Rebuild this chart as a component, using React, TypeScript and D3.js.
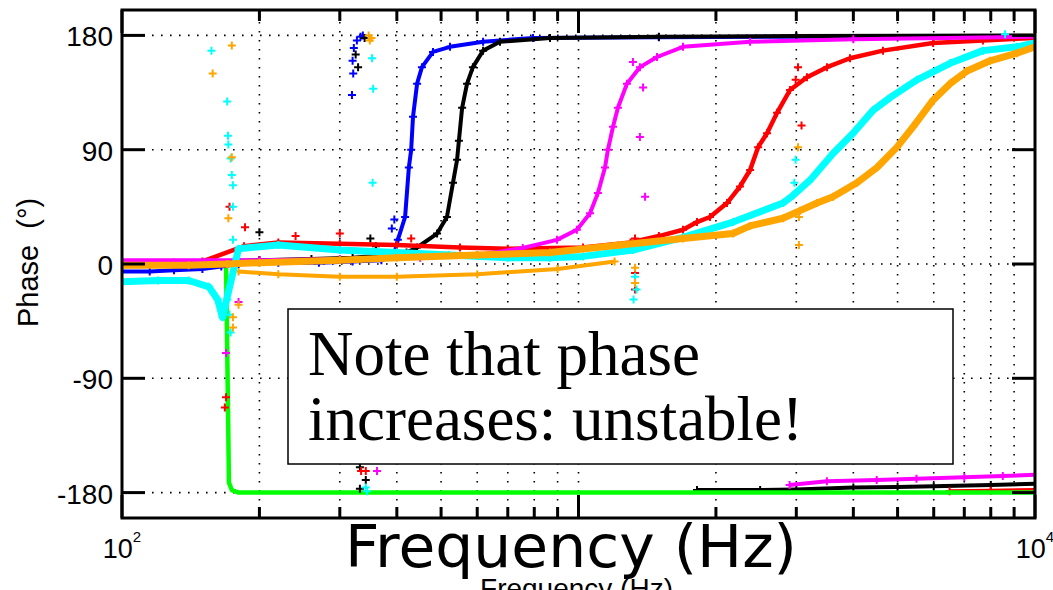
import React, { useRef, useEffect } from 'react';
import * as d3 from 'd3';

type Pt = [number, number];

// frequency (Hz), phase (deg)
const blue: Pt[] = [[100, -6], [115, -6], [130, -5], [150, -4], [165, -2], [180, 0], [220, 1], [270, 1], [320, 2], [370, 3], [395, 8], [402, 19], [417, 37], [425, 76], [430, 90], [434, 116], [443, 142], [454, 155], [480, 167], [523, 171], [618, 175], [795, 178], [1500, 178.5], [3000, 179], [10000, 179.5]];
const black: Pt[] = [[100, 0], [130, 1], [160, 2], [200, 3], [260, 4], [320, 5], [380, 7], [420, 9], [443, 13], [490, 24], [515, 37], [531, 64], [542, 82], [547, 97], [556, 123], [570, 142], [587, 155], [618, 168], [673, 175], [866, 178], [1500, 179], [3000, 179.5], [10000, 180]];
const magenta: Pt[] = [[100, 3], [200, 3], [300, 4], [450, 5], [600, 7], [755, 12.6], [897, 19], [992, 27], [1060, 40], [1103, 56], [1143, 76], [1160, 90], [1190, 108], [1220, 123], [1277, 142], [1363, 155], [1486, 163], [1694, 171], [2376, 175], [4000, 177], [10000, 179]];
const red: Pt[] = [[100, 0], [150, 2], [185, 14], [220, 17], [300, 16], [400, 15], [550, 13], [700, 12], [1023, 13], [1300, 17], [1500, 22], [1694, 27], [1818, 33], [1941, 37], [2115, 48], [2258, 61], [2376, 74], [2474, 92], [2588, 103], [2722, 119], [2906, 137], [3166, 147], [3503, 155], [3933, 162], [4645, 168], [5980, 174], [7690, 176], [10000, 178]];
const cyan: Pt[] = [[100, -14], [120, -13], [140, -13], [155, -18], [162, -28], [166, -42], [180, 12], [220, 15], [300, 11], [400, 9], [520, 7], [700, 5], [866, 5], [1023, 6], [1316, 11], [1694, 21], [2180, 33], [2805, 48], [2950, 54], [3215, 66], [3610, 87], [3994, 103], [4417, 121], [4813, 131], [5513, 145], [6514, 158], [7690, 168], [9130, 171], [10000, 174]];
const orange: Pt[] = [[100, -1], [140, -1], [170, 0], [200, 1], [300, 3], [400, 5], [600, 7], [866, 9], [1233, 15], [1694, 20], [2180, 24], [2376, 30], [2805, 36], [3057, 42], [3330, 48], [3610, 53], [4074, 64], [4507, 76], [4985, 92], [5406, 108], [5980, 129], [6514, 142], [7100, 152], [7970, 160], [9130, 166], [10000, 171]];
const orangeLow: Pt[] = [[180, -6], [220, -8], [300, -10], [400, -10], [600, -8], [900, -4], [1200, 2]];
const green: Pt[] = [[100, 0], [169, 0], [170.5, -100], [171.5, -172], [174, -178], [180, -180], [10000, -180]];

// wrapped points near -180
const blackWrap: Pt[] = [[1818, -178], [2500, -178], [3000, -177.5], [4000, -176], [5000, -175.5], [6000, -175], [8000, -174], [10000, -173]];
const magentaWrap: Pt[] = [[2900, -174], [3500, -171], [4500, -170], [5500, -169], [7000, -168], [8500, -167], [10000, -166]];
const redWrap: Pt[] = [[6500, -179], [8000, -178.5], [10000, -178]];

// stray points
const blueStray: Pt[] = [[319, 133], [321, 150], [320, 160], [322, 170], [327, 176], [333, 179], [337, 180], [395, 35], [390, 28]];
const blackStray: Pt[] = [[329, 155], [325, 165], [340, 178], [332, -160], [342, -170], [332, -177], [200, 25], [350, 20], [360, 14]];
const magentaStray: Pt[] = [[169, -70], [1316, 159], [1363, 100], [1385, 139], [1399, 53], [362, -163], [180, -30]];
const redStray: Pt[] = [[172, 45], [186, 29], [168, -113], [169, -105], [1330, 20], [1330, -7], [1330, -20], [3026, 155], [2990, 145], [3080, 109], [334, -163], [342, -163], [240, 22], [300, 24], [430, 20]];
const cyanStray: Pt[] = [[157, 168], [170, 128], [170.7, 101], [171, 94], [173, 83], [174, 70], [175, 62], [175, 45], [175, 19], [170, -28], [172, -40], [173, -54], [353, 162], [355, 138], [354, 64], [1330, -10], [1340, -20], [1320, -28], [2990, 82], [2970, 64], [342, -176], [344, -179], [8600, 181]];
const orangeStray: Pt[] = [[174, 172], [158, 150], [174, 84], [171, 36], [180, -32], [175, -42], [175, -50], [349, 176], [352, 178], [347, 180], [1330, -3], [1330, -15], [3026, 92], [3040, 37], [3040, 15]];

const yTicks = [-180, -90, 0, 90, 180];
const xLabels: [number, string][] = [[100, '2'], [10000, '4']];

const seriesList = [
  { color: '#00ff00', data: green, w: 4.5, stray: [] as Pt[] },
  { color: '#0000ff', data: blue, w: 4, stray: blueStray },
  { color: '#000000', data: black, w: 4, stray: blackStray },
  { color: '#ff0000', data: red, w: 4.5, stray: redStray },
  { color: '#ff00ff', data: magenta, w: 4, stray: magentaStray },
  { color: '#00ffff', data: cyan, w: 7, stray: cyanStray },
  { color: '#ffa500', data: orange, w: 7, stray: orangeStray },
];
const wrapList = [
  { color: '#000000', data: blackWrap },
  { color: '#ff00ff', data: magentaWrap },
  { color: '#ff0000', data: redWrap },
  { color: '#ffa500', data: orangeLow },
];

const W = 1053;
const H = 590;
const L = 122, R = 1035, T = 10, B = 518;

function App() {
  const ref = useRef<SVGSVGElement>(null);

  useEffect(() => {
    const svg = d3.select(ref.current);
    svg.selectAll('*').remove();

    const x = d3.scaleLog().domain([100, 10000]).range([L, R]);
    const y = d3.scaleLinear().domain([-200, 200]).range([B, T]);
    const sans = 'Liberation Sans, Arial, Helvetica, sans-serif';

    svg.append('rect').attr('width', W).attr('height', H).attr('fill', '#fff');

    // dotted grid
    const grid = svg.append('g').attr('stroke', '#000').attr('stroke-width', 1.6).attr('stroke-dasharray', '1.6,7.4');
    x.ticks().filter((t) => t > 100 && t < 10000).forEach((t) => {
      grid.append('line').attr('x1', x(t)).attr('x2', x(t)).attr('y1', T + 3).attr('y2', B);
    });
    yTicks.forEach((t) => {
      grid.append('line').attr('x1', L + 3).attr('x2', R).attr('y1', y(t)).attr('y2', y(t));
    });

    svg.append('clipPath').attr('id', 'plotclip')
      .append('rect').attr('x', L).attr('y', T).attr('width', R - L).attr('height', B - T);
    const plot = svg.append('g').attr('clip-path', 'url(#plotclip)');

    const ln = d3.line<Pt>().x((d) => x(d[0])).y((d) => y(d[1]));
    const plus = (g: any, pts: Pt[], color: string) => {
      g.append('path')
        .attr('d', pts.map((d) => `M${x(d[0]) - 4},${y(d[1])}h8M${x(d[0])},${y(d[1]) - 4}v8`).join(''))
        .attr('stroke', color).attr('stroke-width', 2).attr('fill', 'none');
    };

    wrapList.forEach((s) => {
      plot.append('path').attr('d', ln(s.data)).attr('fill', 'none')
        .attr('stroke', s.color).attr('stroke-width', 4);
      plus(plot, s.data, s.color);
    });

    seriesList.forEach((s) => {
      plot.append('path').attr('d', ln(s.data)).attr('fill', 'none')
        .attr('stroke', s.color).attr('stroke-width', s.w).attr('stroke-linejoin', 'round');
      if (s.color !== '#00ff00') plus(plot, s.data, s.color);
      plus(plot, s.stray, s.color);
    });

    // axes box and ticks
    const ax = svg.append('g').attr('stroke', '#000').attr('stroke-width', 3);
    ax.append('rect').attr('x', L).attr('y', T).attr('width', R - L).attr('height', B - T).attr('fill', 'none');
    x.ticks().forEach((t) => {
      const len = Number.isInteger(Math.log10(t)) ? 23 : 11;
      ax.append('line').attr('x1', x(t)).attr('x2', x(t)).attr('y1', T).attr('y2', T + len);
      ax.append('line').attr('x1', x(t)).attr('x2', x(t)).attr('y1', B).attr('y2', B - len);
    });
    yTicks.forEach((t) => {
      ax.append('line').attr('x1', L).attr('x2', L + 23).attr('y1', y(t)).attr('y2', y(t));
      ax.append('line').attr('x1', R).attr('x2', R - 23).attr('y1', y(t)).attr('y2', y(t));
    });

    yTicks.forEach((t) => {
      svg.append('text').attr('x', 113).attr('y', y(t) + 11).attr('text-anchor', 'end')
        .attr('font-family', sans).attr('font-size', 28).text(t);
    });
    xLabels.forEach(([v, e]) => {
      const tx = svg.append('text').attr('x', x(v)).attr('y', 558).attr('text-anchor', 'middle')
        .attr('font-family', sans).attr('font-size', 27);
      tx.append('tspan').text('10');
      tx.append('tspan').attr('dy', -16).attr('font-size', 15).text(e);
    });

    svg.append('text').attr('transform', 'translate(38,327) rotate(-90)')
      .attr('font-family', sans).attr('font-size', 29).style('white-space', 'pre')
      .text('Phase  (°)');

    svg.append('text').attr('x', (L + R) / 2 - 2).attr('y', 598).attr('text-anchor', 'middle')
      .attr('font-family', sans).attr('font-size', 28).text('Frequency (Hz)');

    // annotation
    svg.append('rect').attr('x', 288).attr('y', 309).attr('width', 665).attr('height', 155)
      .attr('fill', '#fff').attr('stroke', '#000').attr('stroke-width', 1.5);
    const serif = 'Liberation Serif, Times New Roman, serif';
    svg.append('text').attr('x', 308).attr('y', 375).attr('font-family', serif).attr('font-size', 63)
      .text('Note that phase');
    svg.append('text').attr('x', 308).attr('y', 440).attr('font-family', serif).attr('font-size', 63)
      .text('increases: unstable!');

    svg.append('text').attr('x', 571).attr('y', 567).attr('text-anchor', 'middle')
      .attr('font-family', 'Comic Sans MS, DejaVu Sans, sans-serif').attr('font-size', 58)
      .attr('textLength', 452).attr('lengthAdjust', 'spacingAndGlyphs')
      .text('Frequency (Hz)');
  }, []);

  return (
    <svg ref={ref} width={W} height={H} style={{ position: 'absolute', left: 0, top: 0 }} />
  );
}

export default App;
